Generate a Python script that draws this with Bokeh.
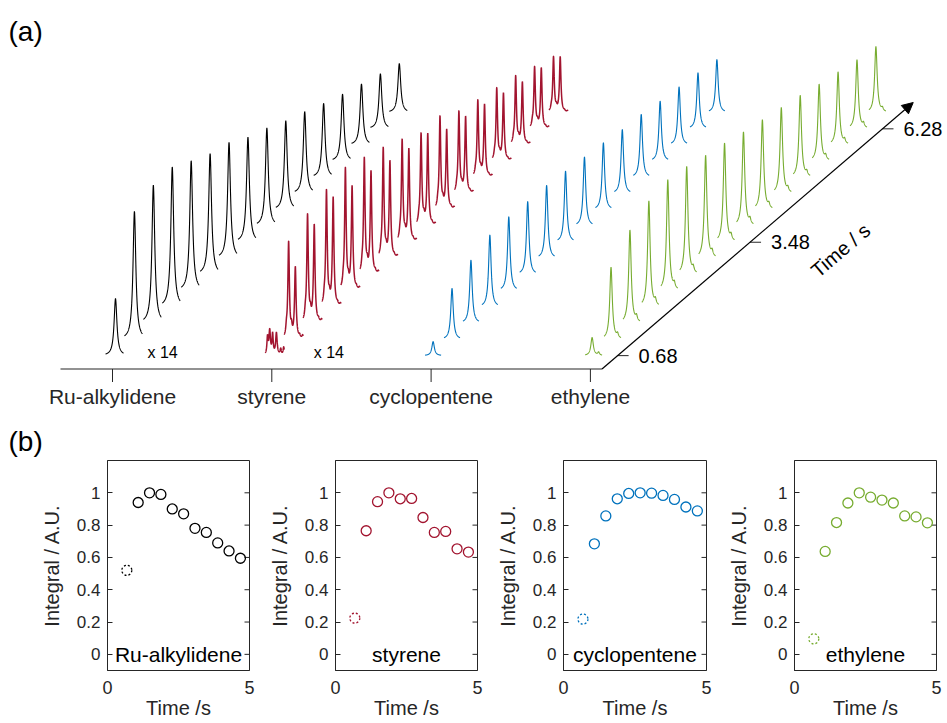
import numpy as np
from bokeh.plotting import figure
from bokeh.models import Range1d, Arrow, NormalHead, Label, FixedTicker, LinearAxis
from bokeh.layouts import column, row
from bokeh.embed import file_html
from bokeh.resources import INLINE
from bokeh.core.properties import value

FONT = "Liberation Sans"
INK = "#262626"

# ---------------- data ----------------
species = ["Ru-alkylidene", "styrene", "cyclopentene", "ethylene"]
colors = ["#000000", "#A2142F", "#0072BD", "#77AC30"]

# panel (a): stacked spectra, one per time point
times_a = [0.68, 1.08, 1.48, 1.88, 2.28, 2.68, 3.08, 3.48, 3.88, 4.28, 4.68, 5.08, 5.48, 5.88, 6.28, 6.68]
time_ticks = [0.68, 3.48, 6.28]

ru_peak = [0.57, 1.28, 1.38, 1.40, 1.30, 1.21, 1.16, 1.05, 0.98, 0.89, 0.82, 0.74, 0.67, 0.61, 0.55, 0.49]
sty_peak1 = [0.24, 0.96, 1.07, 1.15, 1.21, 1.15, 1.09, 1.01, 0.91, 0.92, 0.81, 0.76, 0.72, 0.68, 0.61, 0.55]
sty_peak2 = [0.22, 0.71, 0.97, 1.08, 1.03, 1.02, 0.96, 0.92, 0.91, 0.79, 0.76, 0.72, 0.67, 0.62, 0.60, 0.55]
sty_minor = [0.20, 0.08, 0.07, 0.06, 0.06, 0.06, 0.05, 0.05, 0.05, 0.05, 0.04, 0.04, 0.04, 0.04, 0.04, 0.03]
sty_minor_pos = [-2.2, 2.9, 11.0, 14.0]
sty_minor_w = [0.85, 1.0, 0.3, 0.4]
cp_peak = [0.14, 0.51, 0.63, 0.72, 0.74, 0.73, 0.73, 0.71, 0.69, 0.67, 0.64, 0.63, 0.60, 0.58, 0.56, 0.53]
eth_peak = [0.18, 0.72, 0.93, 1.06, 1.11, 1.08, 1.03, 0.99, 0.94, 0.90, 0.86, 0.82, 0.77, 0.73, 0.69, 0.66]
eth_side = [0.03, 0.04, 0.05, 0.05, 0.05, 0.05, 0.05, 0.05, 0.05, 0.04, 0.04, 0.04, 0.04, 0.04, 0.04, 0.03]

# panel (b): normalised integrals
times_b = [0.68, 1.08, 1.48, 1.88, 2.28, 2.68, 3.08, 3.48, 3.88, 4.28, 4.68]
ru_int = [0.52, 0.94, 1.00, 0.99, 0.90, 0.87, 0.78, 0.755, 0.69, 0.64, 0.595]
sty_int = [0.224, 0.765, 0.945, 1.00, 0.963, 0.965, 0.847, 0.755, 0.761, 0.653, 0.633]
cp_int = [0.218, 0.684, 0.857, 0.963, 0.996, 1.00, 0.998, 0.984, 0.959, 0.912, 0.888]
eth_int = [0.096, 0.637, 0.816, 0.937, 1.00, 0.973, 0.955, 0.937, 0.857, 0.851, 0.814]
integrals = [ru_int, sty_int, cp_int, eth_int]
y_ticks_b = [0, 0.2, 0.4, 0.6, 0.8, 1]
y_tick_labels_b = ["0", "0.2", "0.4", "0.6", "0.8", "1"]
x_ticks_b = [0, 5]

# ---------------- layout constants (canvas pixels, y down) ----------------
W_TOTAL = 947
H_A = 457
H_B = 266
FRONT_Y = 368.5
XC0, CAT_SP = 112.0, 159.3
AX_LEFT, AX_RIGHT = 60.0, 601.5
TMIN, TMAX = 0.35, 6.93
DXS, DYS = 47.3, 40.5
SCALE = 100.0
PEAK_SHIFT = [-12.6, -17.7, -13.6, -13.9]
LINE_W = [1.1, 1.5, 1.1, 1.1]


def lor(u, c, g):
    return 1.0 / (1.0 + ((u - c) / g) ** 2)


def base_point(k, t):
    return (XC0 + k * CAT_SP + (t - TMIN) * DXS + PEAK_SHIFT[k],
            FRONT_Y - (t - TMIN) * DYS)


def spectrum(k, i):
    x0, y0 = base_point(k, times_a[i])
    if k == 0:
        u = np.linspace(-10, 8, 300)
        inten = ru_peak[i] * lor(u, 0, 1.7)
    elif k == 1:
        u = np.linspace(-4.5, 14.5, 400)
        inten = sty_peak1[i] * lor(u, 0, 0.9) + sty_peak2[i] * lor(u, 6.7, 0.9)
        for off, w in zip(sty_minor_pos, sty_minor_w):
            inten = inten + sty_minor[i] * w * lor(u, off, 0.7)
    elif k == 2:
        u = np.linspace(-8, 8, 300)
        inten = cp_peak[i] * lor(u, 0, 1.5)
    else:
        u = np.linspace(-7, 10, 300)
        inten = eth_peak[i] * lor(u, 0, 1.5) + eth_side[i] * lor(u, 6.5, 1.0)
    return list(x0 + u), list(y0 - inten * SCALE)


# ---------------- panel (a) ----------------
pa = figure(width=W_TOTAL, height=H_A, x_range=Range1d(0, W_TOTAL), y_range=Range1d(H_A, 0),
            output_backend="svg", toolbar_location=None, min_border=0,
            x_axis_location=None, y_axis_location=None, outline_line_color=None)
pa.grid.visible = False

for k in range(4):
    xs, ys = [], []
    for i in range(len(times_a)):
        sx, sy = spectrum(k, i)
        xs.append(sx)
        ys.append(sy)
    pa.multi_line(xs=xs, ys=ys, line_color=colors[k], line_width=LINE_W[k])

# front (category) axis
cat_x = [XC0 + k * CAT_SP for k in range(4)]
pa.segment(x0=[AX_LEFT], y0=[FRONT_Y], x1=[AX_RIGHT], y1=[FRONT_Y], line_color=INK, line_width=1.2)
pa.segment(x0=cat_x, y0=[FRONT_Y] * 4, x1=cat_x, y1=[FRONT_Y + 13] * 4, line_color=INK, line_width=1)
pa.text(x=cat_x, y=[FRONT_Y + 27] * 4, text=species, text_font=value(FONT),
        text_font_size=value("21px"), text_color=INK, text_align="center", text_baseline="middle")

# time axis (diagonal arrow)
pa.add_layout(Arrow(x_start=AX_RIGHT, y_start=FRONT_Y,
                    x_end=AX_RIGHT + (TMAX - TMIN) * DXS, y_end=FRONT_Y - (TMAX - TMIN) * DYS,
                    line_color="black", line_width=1.2,
                    end=NormalHead(size=11, fill_color="black", line_color="black", line_width=1)))
tx = [AX_RIGHT + (t - TMIN) * DXS for t in time_ticks]
ty = [FRONT_Y - (t - TMIN) * DYS for t in time_ticks]
pa.segment(x0=tx, y0=ty, x1=[x + 11 for x in tx], y1=ty, line_color=INK, line_width=1)
pa.text(x=[x + 21 for x in tx], y=ty, text=[f"{t:.2f}" for t in time_ticks], text_font=value(FONT),
        text_font_size=value("20px"), text_color="black", text_align="left", text_baseline="middle")

norm = np.hypot(DXS, DYS)
t_lab = 4.5
lx = AX_RIGHT + (t_lab - TMIN) * DXS + 65 * DYS / norm
ly = FRONT_Y - (t_lab - TMIN) * DYS + 65 * DXS / norm
pa.add_layout(Label(x=lx, y=ly, text="Time / s", angle=float(np.arctan2(DYS, DXS)),
                    text_font=FONT, text_font_size="20px", text_color="black",
                    text_align="center", text_baseline="middle"))

# scale factor notes
bx, by = base_point(0, times_a[0])
rx, ry = base_point(1, times_a[0])
pa.text(x=[bx + 32, rx + 44], y=[by - 3, ry - 3], text=["x 14", "x 14"], text_font=value(FONT),
        text_font_size=value("16px"), text_color="black", text_align="left", text_baseline="middle")

# panel letters
pa.text(x=[8, 8], y=[31, 441], text=["(a)", "(b)"], text_font=value(FONT), text_font_size=value("28px"),
        text_color="black", text_align="left", text_baseline="middle")

# ---------------- panel (b) ----------------
b_widths = [255, 228, 231, 233]
b_left = [107, 80, 80, 80]
b_right = [6, 6, 8, 11]
FRAME_H = 210
B_TOP = 3
TICK_IN = 5
b_figs = []
for k in range(4):
    frame_w = b_widths[k] - b_left[k] - b_right[k]
    p = figure(width=b_widths[k], height=H_B, x_range=Range1d(0, 5), y_range=Range1d(-0.1, 1.2),
               output_backend="svg", toolbar_location=None,
               min_border_left=b_left[k], min_border_right=b_right[k],
               min_border_top=B_TOP, min_border_bottom=H_B - B_TOP - FRAME_H,
               x_axis_location=None, y_axis_location=None)
    p.grid.visible = False
    p.outline_line_color = INK
    p.outline_line_width = 1
    p.outline_line_alpha = 1

    xa = LinearAxis(ticker=FixedTicker(ticks=x_ticks_b), major_tick_in=0, major_tick_out=0,
                    minor_tick_line_color=None, major_label_standoff=10,
                    major_label_text_font=FONT, major_label_text_font_size="18px",
                    major_label_text_color=INK, axis_line_color=INK,
                    axis_label="Time /s", axis_label_text_font=FONT,
                    axis_label_text_font_size="20px", axis_label_text_font_style="normal",
                    axis_label_text_color=INK, axis_label_standoff=0)
    p.add_layout(xa, "below")

    ya = LinearAxis(ticker=FixedTicker(ticks=y_ticks_b), major_tick_in=TICK_IN, major_tick_out=0,
                    minor_tick_line_color=None, major_label_standoff=7,
                    major_label_overrides={t: s for t, s in zip(y_ticks_b, y_tick_labels_b)},
                    major_label_text_font=FONT, major_label_text_font_size="17px",
                    major_label_text_color=INK, axis_line_color=INK, major_tick_line_color=INK,
                    axis_label="Integral / A.U.", axis_label_text_font=FONT,
                    axis_label_text_font_size="20px", axis_label_text_font_style="normal",
                    axis_label_text_color=INK, axis_label_standoff=11)
    p.add_layout(ya, "left")

    # inner ticks on the right edge of the box
    d = TICK_IN * 5.0 / frame_w
    p.segment(x0=[5] * len(y_ticks_b), y0=y_ticks_b, x1=[5 - d] * len(y_ticks_b), y1=y_ticks_b,
              line_color=INK, line_width=1)

    vals = integrals[k]
    p.scatter(times_b[1:], vals[1:], marker="circle", size=10, fill_color=None,
              line_color=colors[k], line_width=1.3)
    p.scatter(times_b[:1], vals[:1], marker="circle", size=10, fill_color=None,
              line_color=colors[k], line_width=1.3, line_dash="2 2")

    p.text(x=[2.5], y=[0], text=[species[k]], text_font=value(FONT), text_font_size=value("21px"),
           text_color="black", text_align="center", text_baseline="middle")
    b_figs.append(p)

layout = column(pa, row(*b_figs, spacing=0), spacing=0)

with open("out.html", "w") as f:
    f.write(file_html(layout, INLINE))
